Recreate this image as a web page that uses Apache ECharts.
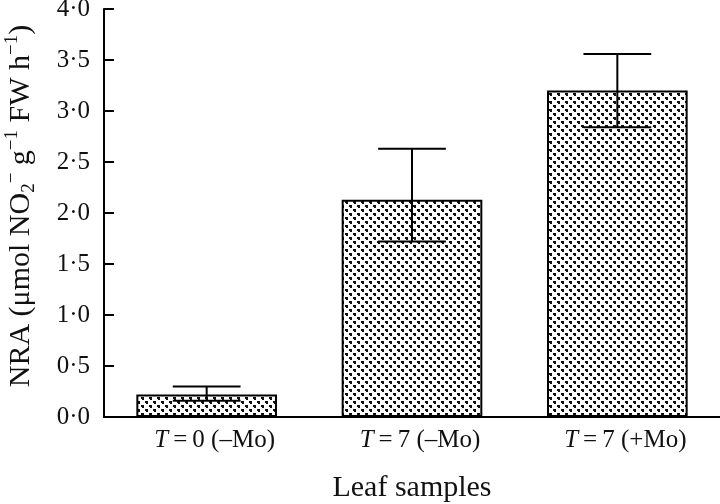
<!DOCTYPE html>
<html><head><meta charset="utf-8">
<script src="https://cdn.jsdelivr.net/npm/echarts@6.0.0/dist/echarts.min.js"></script>
<style>html,body{margin:0;padding:0;background:#fff}#c{width:720px;height:504px}</style>
</head><body><div id="c"></div>
<script>
// Data
const categories = ['T = 0 (–Mo)', 'T = 7 (–Mo)', 'T = 7 (+Mo)'];
const values = [0.22, 2.13, 3.20];
const errLow = [0.16, 1.72, 2.84];
const errHigh = [0.30, 2.63, 3.56];
const yMin = 0, yMax = 4, yStep = 0.5;

// dotted fill pattern
function makePattern() {
  const c = document.createElement('canvas');
  c.width = 8; c.height = 8;
  const g = c.getContext('2d');
  g.fillStyle = '#fff'; g.fillRect(0, 0, 8, 8);
  g.fillStyle = '#111';
  g.fillRect(1, 1, 3, 2); g.fillRect(2, 3, 2, 1);
  g.fillRect(5, 5, 3, 2); g.fillRect(6, 7, 2, 1);
  return c;
}

const FONT = '"Liberation Serif", "Times New Roman", serif';
const chart = echarts.init(document.getElementById('c'), null, {renderer: 'canvas'});
chart.setOption({
  animation: false,
  backgroundColor: '#fff',
  grid: {left: 104, right: 0, top: 9, bottom: 87, containLabel: false, outerBoundsMode: 'none'},
  xAxis: {
    type: 'category',
    data: categories,
    axisTick: {show: false},
    axisLine: {lineStyle: {color: '#000', width: 2}},
    axisLabel: {
      margin: 11,
      padding: [0, 0, 0, 16],
      formatter: v => '{i|T}{n|' + v.slice(1).replace(/ = /, '\u2009=\u2009') + '}',
      rich: {
        i: {fontFamily: FONT, fontSize: 25, fontStyle: 'italic', color: '#111'},
        n: {fontFamily: FONT, fontSize: 25, color: '#111'}
      }
    },
    name: 'Leaf samples',
    nameLocation: 'middle',
    nameGap: 56,
    nameTextStyle: {fontFamily: FONT, fontSize: 30, color: '#111'}
  },
  yAxis: {
    type: 'value',
    min: yMin, max: yMax, interval: yStep,
    splitLine: {show: false},
    axisLine: {show: true, lineStyle: {color: '#000', width: 2}},
    axisTick: {show: true, inside: true, length: 10, lineStyle: {color: '#000', width: 2}},
    axisLabel: {
      margin: 14,
      fontFamily: FONT, fontSize: 25, color: '#111',
      formatter: v => v.toFixed(1).replace('.', '·')
    },
    name: '{n|NRA (μmol NO}{sub|2}{sup|−}{n| g}{sup|−1}{n| FW h}{sup|−1}{n|)}',
    nameLocation: 'middle',
    nameRotate: 90,
    nameGap: 65,
    nameTextStyle: {
      padding: [0, 0, 0, 14],
      rich: {
        n: {fontFamily: FONT, fontSize: 30, color: '#111', lineHeight: 36},
        sup: {fontFamily: FONT, fontSize: 19, color: '#111', verticalAlign: 'top', lineHeight: 19},
        sub: {fontFamily: FONT, fontSize: 19, color: '#111', verticalAlign: 'bottom', lineHeight: 19}
      }
    }
  },
  series: [
    {
      type: 'bar',
      data: values,
      barWidth: '68.5%',
      itemStyle: {
        color: {image: makePattern(), repeat: 'repeat'},
        borderColor: '#000',
        borderWidth: 2
      },
      z: 2
    },
    {
      type: 'custom',
      data: categories.map((c, i) => [i, errLow[i], errHigh[i]]),
      z: 5,
      renderItem: function (params, api) {
        const x = api.value(0);
        const lo = api.coord([x, api.value(1)]);
        const hi = api.coord([x, api.value(2)]);
        const half = api.size([1, 0])[0] * 0.165;
        const st = {stroke: '#000', lineWidth: 2};
        return {type: 'group', children: [
          {type: 'line', shape: {x1: hi[0], y1: hi[1], x2: lo[0], y2: lo[1]}, style: st},
          {type: 'line', shape: {x1: hi[0] - half, y1: hi[1], x2: hi[0] + half, y2: hi[1]}, style: st},
          {type: 'line', shape: {x1: lo[0] - half, y1: lo[1], x2: lo[0] + half, y2: lo[1]}, style: st}
        ]};
      }
    }
  ]
});
</script>
</body></html>
